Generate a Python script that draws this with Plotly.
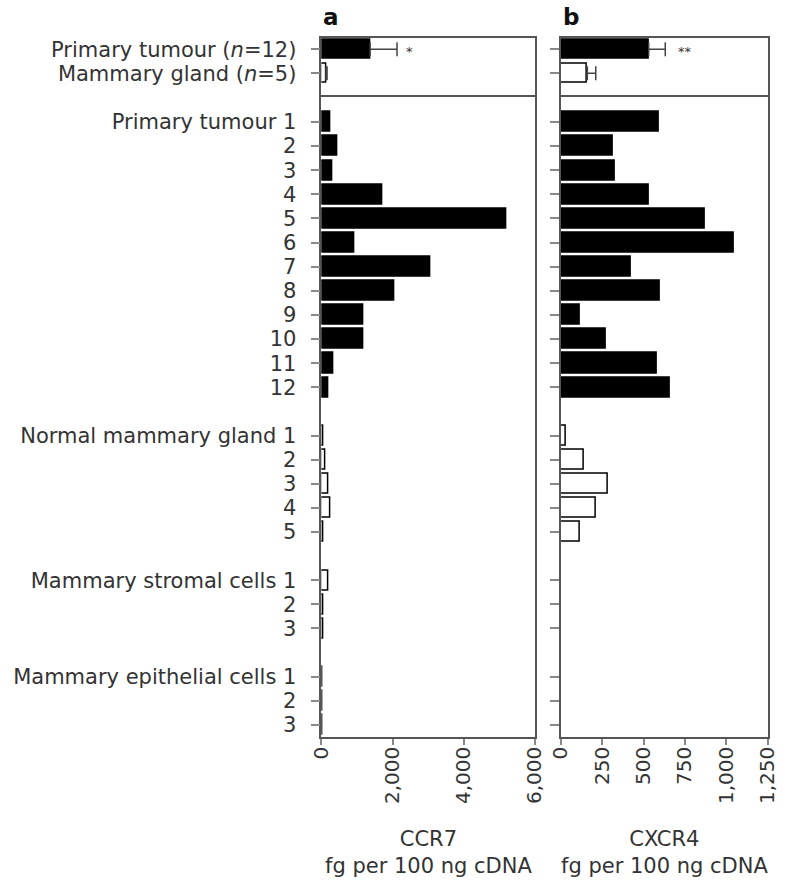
import plotly.graph_objects as go

# ---- data ----
summary_labels = ["Primary tumour (<i>n</i>=12)", "Mammary gland (<i>n</i>=5)"]
summary_ccr7 = [1370, 130]
summary_ccr7_err = [755, 30]
summary_cxcr4 = [531, 160]
summary_cxcr4_err = [100, 51]
summary_stars_ccr7 = ["*", ""]
summary_stars_cxcr4 = ["**", ""]

group_names = ["Primary tumour", "Normal mammary gland",
               "Mammary stromal cells", "Mammary epithelial cells"]
group_filled = [True, False, False, False]

ccr7_tumour = [240, 460, 310, 1710, 5200, 940, 3070, 2050, 1180, 1180, 350, 210]
ccr7_normal = [60, 105, 200, 260, 45]
ccr7_stromal = [200, 45, 45]
ccr7_epithelial = [35, 35, 30]

cxcr4_tumour = [592, 316, 328, 531, 873, 1047, 424, 599, 117, 270, 580, 660]
cxcr4_normal = [33, 139, 283, 211, 115]
cxcr4_stromal = [0, 0, 0]
cxcr4_epithelial = [0, 0, 0]

ccr7_ticks = [0, 2000, 4000, 6000]
cxcr4_ticks = [0, 250, 500, 750, 1000, 1250]

ccr7_groups = [ccr7_tumour, ccr7_normal, ccr7_stromal, ccr7_epithelial]
cxcr4_groups = [cxcr4_tumour, cxcr4_normal, cxcr4_stromal, cxcr4_epithelial]

# ---- layout helpers ----
W, H = 791, 880
FONT = "DejaVu Sans, Arial, sans-serif"
TXT = "#333333"
LINE = "#555555"
TICK = "#888888"


def px_x(a, b):
    return [a / W, b / W]


def px_y(top, bottom):
    return [1 - bottom / H, 1 - top / H]


# row positions: groups separated by one empty slot
positions, ticktext, filled_flags = [], [], []
pos = 1
for name, vals, filled in zip(group_names, ccr7_groups, group_filled):
    for i in range(len(vals)):
        positions.append(pos)
        ticktext.append(f"{name} {i + 1}" if i == 0 else str(i + 1))
        filled_flags.append(filled)
        pos += 1
    pos += 1

ccr7_all = [v for g in ccr7_groups for v in g]
cxcr4_all = [v for g in cxcr4_groups for v in g]
fill_cols = ["black" if f else "white" for f in filled_flags]

summary_pos = [0, 1]
summary_fill = ["black", "white"]

fig = go.Figure()


def add_summary(vals, errs, xa, ya):
    fig.add_trace(go.Bar(
        x=vals, y=summary_pos, orientation="h", width=0.8,
        marker=dict(color=summary_fill, line=dict(color="black", width=1.5)),
        error_x=dict(type="data", array=errs, arrayminus=[0] * len(errs),
                     symmetric=False, color="#444444", thickness=1.5, width=7),
        xaxis=xa, yaxis=ya, showlegend=False,
    ))


def add_detail(vals, xa, ya):
    fig.add_trace(go.Bar(
        x=vals, y=positions, orientation="h", width=0.83,
        marker=dict(color=fill_cols, line=dict(color="black", width=1.5)),
        xaxis=xa, yaxis=ya, showlegend=False,
    ))


add_summary(summary_ccr7, summary_ccr7_err, "x", "y")
add_summary(summary_cxcr4, summary_cxcr4_err, "x2", "y2")
add_detail(ccr7_all, "x3", "y3")
add_detail(cxcr4_all, "x4", "y4")

# significance stars after the error bars
for xa, ya, vals, errs, stars, shift in [
    ("x", "y", summary_ccr7, summary_ccr7_err, summary_stars_ccr7, 12),
    ("x2", "y2", summary_cxcr4, summary_cxcr4_err, summary_stars_cxcr4, 20),
]:
    for v, e, s, p in zip(vals, errs, stars, summary_pos):
        if s:
            fig.add_annotation(x=v + e, y=p, xref=xa, yref=ya, text=s,
                               showarrow=False, xshift=shift, yshift=-2,
                               font=dict(family=FONT, size=13, color=TXT))

dom_a = px_x(318, 538.3)
dom_b = px_x(565, 778.3)
dom_top = px_y(37.7, 96.7)
dom_low = px_y(96.7, 737)

box = dict(showline=True, mirror=True, linecolor=LINE, linewidth=1.5,
           showgrid=False, zeroline=False)
# top boxes: only the upper edge, the separator comes from the lower box
top_x = dict(showline=True, mirror=False, side="top", linecolor=LINE,
             linewidth=1.5, showgrid=False, zeroline=False,
             showticklabels=False, ticks="")
ytick = dict(ticks="outside", ticklen=9, tickcolor=TICK, tickwidth=1.5)
xtick = dict(tickangle=-90, ticks="outside", ticklen=6, tickcolor=TICK,
             tickwidth=1.5, ticklabelstandoff=-6,
             tickfont=dict(size=20, color=TXT))

fig.update_layout(
    width=W, height=H,
    margin=dict(l=0, r=0, t=0, b=0),
    paper_bgcolor="white", plot_bgcolor="white",
    font=dict(family=FONT, size=21, color=TXT),
    bargap=0,
    xaxis=dict(domain=dom_a, range=[0, 6000], anchor="y", **top_x),
    xaxis2=dict(domain=dom_b, range=[0, 1250], anchor="y2", **top_x),
    xaxis3=dict(domain=dom_a, range=[0, 6000], anchor="y3",
                tickvals=ccr7_ticks, ticktext=[f"{t:,}" for t in ccr7_ticks],
                **xtick, **box),
    xaxis4=dict(domain=dom_b, range=[0, 1250], anchor="y4",
                tickvals=cxcr4_ticks, ticktext=[f"{t:,}" for t in cxcr4_ticks],
                **xtick, **box),
    yaxis=dict(domain=dom_top, range=[1.98, -0.48], anchor="x",
               tickvals=summary_pos, ticktext=summary_labels,
               ticklabelstandoff=10, tickfont=dict(size=21, color=TXT),
               **ytick, **box),
    yaxis2=dict(domain=dom_top, range=[1.98, -0.48], anchor="x2",
                tickvals=summary_pos, showticklabels=False, **ytick, **box),
    yaxis3=dict(domain=dom_low, range=[26.5, -0.05], anchor="x3",
                tickvals=positions, ticktext=ticktext,
                ticklabelstandoff=10, tickfont=dict(size=21, color=TXT),
                **ytick, **box),
    yaxis4=dict(domain=dom_low, range=[26.5, -0.05], anchor="x4",
                tickvals=positions, showticklabels=False, **ytick, **box),
)

# panel letters and axis titles
for letter, dom in [("a", dom_a), ("b", dom_b)]:
    fig.add_annotation(x=dom[0] + 10 / W, y=1 - 17 / H, xref="paper", yref="paper",
                       text=f"<b>{letter}</b>", showarrow=False,
                       xanchor="center", yanchor="middle",
                       font=dict(family=FONT, size=23, color="#111111"))

for title, dom in [("CCR7", dom_a), ("CXCR4", dom_b)]:
    fig.add_annotation(x=(dom[0] + dom[1]) / 2, y=1 - 852 / H,
                       xref="paper", yref="paper",
                       text=f"{title}<br>fg per 100 ng cDNA", showarrow=False,
                       xanchor="center", yanchor="middle",
                       font=dict(family=FONT, size=21, color=TXT))

# page body has a default margin; remove it so the figure fills the window
fig.write_html("out.html",
               config={"displayModeBar": False},
               post_script="document.body.style.margin='0';"
                           "document.body.style.overflow='hidden';")
